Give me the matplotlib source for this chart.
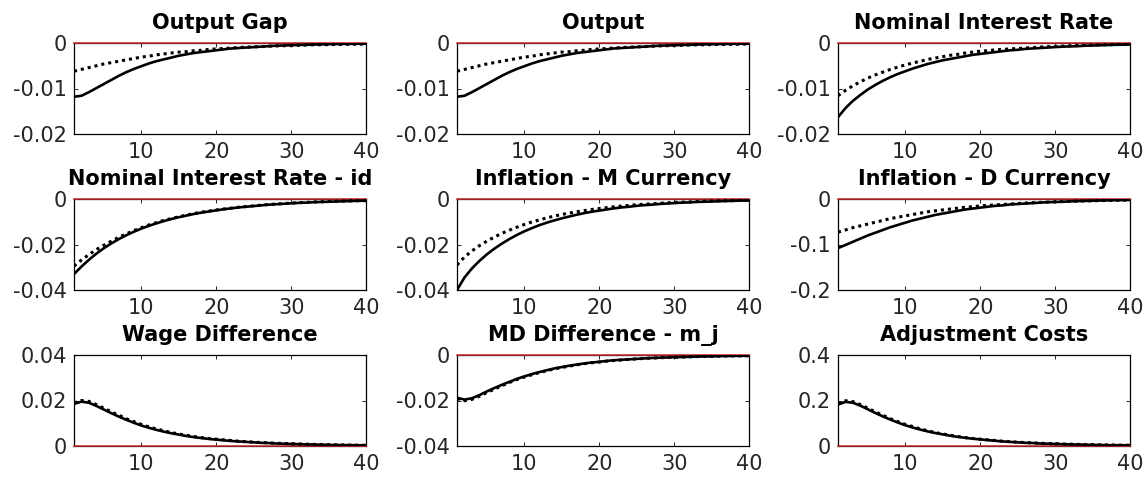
import numpy as np
import matplotlib
matplotlib.use('Agg')
from matplotlib import pyplot as plt

plt.rcParams['font.family'] = ['DejaVu Sans']

# 기간 (1~40)
periods = list(range(1, 41))

# 각 패널 데이터 (실선 = 기준, 점선 = 비교)
output_gap_solid = [-0.0118, -0.0116, -0.0108, -0.0099, -0.0090, -0.0081, -0.0072, -0.0064, -0.0057, -0.0051,
                    -0.0045, -0.0040, -0.0036, -0.0032, -0.0028, -0.0025, -0.0022, -0.0020, -0.0018, -0.0016,
                    -0.0014, -0.0012, -0.0011, -0.0010, -0.0009, -0.0008, -0.0007, -0.0006, -0.00055, -0.0005,
                    -0.00044, -0.0004, -0.00035, -0.0003, -0.00027, -0.00024, -0.00021, -0.00019, -0.00017, -0.00015]
output_gap_dot = [-0.0062, -0.0058, -0.0054, -0.0050, -0.0046, -0.0043, -0.0040, -0.0037, -0.0034, -0.0031,
                  -0.0029, -0.0026, -0.0024, -0.0022, -0.0020, -0.0019, -0.0017, -0.0016, -0.0014, -0.0013,
                  -0.0012, -0.0011, -0.0010, -0.0009, -0.00085, -0.0008, -0.0007, -0.00065, -0.0006, -0.00055,
                  -0.0005, -0.00045, -0.0004, -0.00038, -0.00035, -0.00032, -0.0003, -0.00027, -0.00025, -0.00023]

output_solid = [-0.0118, -0.0116, -0.0108, -0.0099, -0.0090, -0.0081, -0.0072, -0.0064, -0.0057, -0.0051,
                -0.0045, -0.0040, -0.0036, -0.0032, -0.0028, -0.0025, -0.0022, -0.0020, -0.0018, -0.0016,
                -0.0014, -0.0012, -0.0011, -0.0010, -0.0009, -0.0008, -0.0007, -0.0006, -0.00055, -0.0005,
                -0.00044, -0.0004, -0.00035, -0.0003, -0.00027, -0.00024, -0.00021, -0.00019, -0.00017, -0.00015]
output_dot = [-0.0062, -0.0058, -0.0054, -0.0050, -0.0046, -0.0043, -0.0040, -0.0037, -0.0034, -0.0031,
              -0.0029, -0.0026, -0.0024, -0.0022, -0.0020, -0.0019, -0.0017, -0.0016, -0.0014, -0.0013,
              -0.0012, -0.0011, -0.0010, -0.0009, -0.00085, -0.0008, -0.0007, -0.00065, -0.0006, -0.00055,
              -0.0005, -0.00045, -0.0004, -0.00038, -0.00035, -0.00032, -0.0003, -0.00027, -0.00025, -0.00023]

nir_solid = [-0.0163, -0.0143, -0.0127, -0.0114, -0.0102, -0.0092, -0.0083, -0.0075, -0.0068, -0.0062,
             -0.0056, -0.0051, -0.0046, -0.0042, -0.0038, -0.0035, -0.0032, -0.0029, -0.0026, -0.0024,
             -0.0022, -0.0020, -0.0018, -0.0016, -0.0015, -0.0013, -0.0012, -0.0011, -0.0010, -0.0009,
             -0.0008, -0.00075, -0.0007, -0.0006, -0.00055, -0.0005, -0.00045, -0.0004, -0.00037, -0.00033]
nir_dot = [-0.0116, -0.0104, -0.0094, -0.0085, -0.0077, -0.0070, -0.0064, -0.0058, -0.0053, -0.0048,
           -0.0044, -0.0040, -0.0036, -0.0033, -0.0030, -0.0027, -0.0025, -0.0022, -0.0020, -0.0018,
           -0.0017, -0.0015, -0.0014, -0.0013, -0.0012, -0.0011, -0.0010, -0.0009, -0.0008, -0.00075,
           -0.0007, -0.0006, -0.00055, -0.0005, -0.00045, -0.0004, -0.00037, -0.00034, -0.0003, -0.00028]

nir_id_solid = [-0.0330, -0.0297, -0.0267, -0.0240, -0.0216, -0.0195, -0.0176, -0.0159, -0.0144, -0.0130,
                -0.0118, -0.0107, -0.0097, -0.0088, -0.0080, -0.0073, -0.0066, -0.0060, -0.0055, -0.0050,
                -0.0045, -0.0041, -0.0037, -0.0034, -0.0031, -0.0028, -0.0025, -0.0023, -0.0021, -0.0019,
                -0.0017, -0.0016, -0.0014, -0.0013, -0.0012, -0.0011, -0.0010, -0.0009, -0.0008, -0.00075]
nir_id_dot = [-0.0295, -0.0268, -0.0244, -0.0222, -0.0203, -0.0185, -0.0168, -0.0153, -0.0139, -0.0126,
              -0.0114, -0.0104, -0.0094, -0.0086, -0.0078, -0.0071, -0.0064, -0.0058, -0.0053, -0.0048,
              -0.0044, -0.0040, -0.0036, -0.0033, -0.0030, -0.0027, -0.0024, -0.0022, -0.0020, -0.0018,
              -0.0016, -0.0015, -0.0013, -0.0012, -0.0011, -0.0010, -0.0009, -0.0008, -0.00075, -0.0007]

infl_m_solid = [-0.0400, -0.0345, -0.0305, -0.0272, -0.0243, -0.0218, -0.0196, -0.0176, -0.0158, -0.0142,
                -0.0128, -0.0115, -0.0104, -0.0094, -0.0085, -0.0077, -0.0069, -0.0062, -0.0056, -0.0051,
                -0.0046, -0.0041, -0.0037, -0.0034, -0.0030, -0.0027, -0.0025, -0.0022, -0.0020, -0.0018,
                -0.0016, -0.0015, -0.0013, -0.0012, -0.0011, -0.0010, -0.0009, -0.0008, -0.0007, -0.00065]
infl_m_dot = [-0.0290, -0.0255, -0.0228, -0.0205, -0.0185, -0.0167, -0.0151, -0.0137, -0.0124, -0.0112,
              -0.0101, -0.0092, -0.0083, -0.0075, -0.0068, -0.0062, -0.0056, -0.0051, -0.0046, -0.0042,
              -0.0038, -0.0034, -0.0031, -0.0028, -0.0025, -0.0023, -0.0021, -0.0019, -0.0017, -0.0015,
              -0.0014, -0.0013, -0.0011, -0.0010, -0.0009, -0.0008, -0.00075, -0.0007, -0.0006, -0.00055]

infl_d_solid = [-0.108, -0.101, -0.094, -0.087, -0.080, -0.074, -0.068, -0.062, -0.057, -0.052,
                -0.047, -0.043, -0.039, -0.035, -0.032, -0.029, -0.026, -0.023, -0.021, -0.019,
                -0.017, -0.015, -0.014, -0.012, -0.011, -0.010, -0.009, -0.008, -0.007, -0.0065,
                -0.006, -0.0053, -0.0047, -0.0042, -0.0038, -0.0034, -0.003, -0.0027, -0.0024, -0.0022]
infl_d_dot = [-0.073, -0.068, -0.063, -0.059, -0.055, -0.051, -0.047, -0.043, -0.040, -0.037,
              -0.034, -0.031, -0.028, -0.026, -0.024, -0.022, -0.020, -0.018, -0.017, -0.015,
              -0.014, -0.013, -0.012, -0.011, -0.010, -0.009, -0.0082, -0.0075, -0.0068, -0.0062,
              -0.0056, -0.0051, -0.0047, -0.0043, -0.0039, -0.0035, -0.0032, -0.0029, -0.0027, -0.0024]

wage_solid = [0.0185, 0.0195, 0.0190, 0.0176, 0.0160, 0.0144, 0.0129, 0.0115, 0.0102, 0.0090,
              0.0080, 0.0071, 0.0063, 0.0056, 0.0050, 0.0044, 0.0039, 0.0035, 0.0031, 0.0028,
              0.0025, 0.0022, 0.0020, 0.0018, 0.0016, 0.0014, 0.0013, 0.0011, 0.0010, 0.0009,
              0.0008, 0.0007, 0.00065, 0.0006, 0.0005, 0.00045, 0.0004, 0.00037, 0.00033, 0.0003]
wage_dot = [0.0190, 0.0200, 0.0196, 0.0182, 0.0166, 0.0150, 0.0135, 0.0120, 0.0107, 0.0095,
            0.0084, 0.0075, 0.0067, 0.0059, 0.0053, 0.0047, 0.0042, 0.0037, 0.0033, 0.0030,
            0.0027, 0.0024, 0.0021, 0.0019, 0.0017, 0.0015, 0.0014, 0.0012, 0.0011, 0.0010,
            0.0009, 0.0008, 0.0007, 0.00065, 0.0006, 0.0005, 0.00045, 0.0004, 0.00036, 0.00033]

md_solid = [-0.0188, -0.0196, -0.0190, -0.0176, -0.0160, -0.0145, -0.0131, -0.0118, -0.0105, -0.0094,
            -0.0084, -0.0075, -0.0067, -0.0059, -0.0053, -0.0047, -0.0042, -0.0037, -0.0033, -0.0030,
            -0.0026, -0.0023, -0.0021, -0.0019, -0.0017, -0.0015, -0.0013, -0.0012, -0.0011, -0.0010,
            -0.0009, -0.0008, -0.0007, -0.00065, -0.0006, -0.0005, -0.00045, -0.0004, -0.00037, -0.00033]
md_dot = [-0.0192, -0.0201, -0.0195, -0.0181, -0.0165, -0.0150, -0.0135, -0.0121, -0.0108, -0.0097,
          -0.0087, -0.0077, -0.0069, -0.0061, -0.0055, -0.0049, -0.0043, -0.0038, -0.0034, -0.0031,
          -0.0027, -0.0024, -0.0022, -0.0019, -0.0017, -0.0015, -0.0014, -0.0012, -0.0011, -0.0010,
          -0.0009, -0.0008, -0.0007, -0.00065, -0.0006, -0.0005, -0.00045, -0.0004, -0.00037, -0.00034]

adj_solid = [0.182, 0.194, 0.190, 0.177, 0.161, 0.145, 0.130, 0.116, 0.103, 0.091,
             0.081, 0.072, 0.064, 0.057, 0.051, 0.045, 0.040, 0.036, 0.032, 0.029,
             0.026, 0.023, 0.020, 0.018, 0.016, 0.014, 0.013, 0.011, 0.010, 0.009,
             0.008, 0.007, 0.0065, 0.006, 0.005, 0.0045, 0.004, 0.0037, 0.0033, 0.003]
adj_dot = [0.187, 0.199, 0.195, 0.182, 0.166, 0.150, 0.135, 0.120, 0.107, 0.095,
           0.085, 0.075, 0.067, 0.059, 0.053, 0.047, 0.042, 0.037, 0.033, 0.030,
           0.027, 0.024, 0.021, 0.019, 0.017, 0.015, 0.014, 0.012, 0.011, 0.010,
           0.009, 0.008, 0.007, 0.0065, 0.006, 0.005, 0.0045, 0.004, 0.0036, 0.0033]

titles = ['Output Gap', 'Output', 'Nominal Interest Rate',
          'Nominal Interest Rate - id', 'Inflation - M Currency', 'Inflation - D Currency',
          'Wage Difference', 'MD Difference - m_j', 'Adjustment Costs']
solid_list = [output_gap_solid, output_solid, nir_solid,
              nir_id_solid, infl_m_solid, infl_d_solid,
              wage_solid, md_solid, adj_solid]
dot_list = [output_gap_dot, output_dot, nir_dot,
            nir_id_dot, infl_m_dot, infl_d_dot,
            wage_dot, md_dot, adj_dot]
yticks_list = [[-0.02, -0.01, 0], [-0.02, -0.01, 0], [-0.02, -0.01, 0],
               [-0.04, -0.02, 0], [-0.04, -0.02, 0], [-0.2, -0.1, 0],
               [0, 0.02, 0.04], [-0.04, -0.02, 0], [0, 0.2, 0.4]]
ytick_labels = [['-0.02', '-0.01', '0'], ['-0.02', '-0.01', '0'], ['-0.02', '-0.01', '0'],
                ['-0.04', '-0.02', '0'], ['-0.04', '-0.02', '0'], ['-0.2', '-0.1', '0'],
                ['0', '0.02', '0.04'], ['-0.04', '-0.02', '0'], ['0', '0.2', '0.4']]

# 축 위치 (픽셀 기준으로 잡음)
W, H = 1146, 479
col_left = [74, 457, 838]
row_top = [43, 199, 355]
ax_w, ax_h = 292, 91

fig = plt.figure(figsize=(W / 100, H / 100), dpi=100)

for k in range(9):
    r, c = k // 3, k % 3
    ax = fig.add_axes([col_left[c] / W, 1 - (row_top[r] + ax_h) / H, ax_w / W, ax_h / H])
    ax.plot(periods, [0] * len(periods), color='#cc2a2a', lw=1.1, clip_on=False, zorder=3)
    ax.plot(periods, dot_list[k], color='black', ls=(0, (1, 1.3)), lw=2.2, zorder=4)
    ax.plot(periods, solid_list[k], color='black', lw=1.9, zorder=5)
    ax.set_xlim(1, 40)
    ax.set_ylim(yticks_list[k][0], yticks_list[k][-1])
    ax.set_xticks([10, 20, 30, 40])
    ax.set_yticks(yticks_list[k])
    ax.set_yticklabels(ytick_labels[k])
    ax.tick_params(direction='in', length=3, width=0.7, top=True, right=True,
                   labelsize=15, colors='#262626')
    ax.tick_params(axis='y', pad=5)
    ax.tick_params(axis='x', pad=6)
    for sp in ax.spines.values():
        sp.set_linewidth(0.9)
        sp.set_color('black')
    ax.set_title(titles[k], fontsize=15, fontweight='bold', pad=10)

fig.savefig('out.png', dpi=100)
